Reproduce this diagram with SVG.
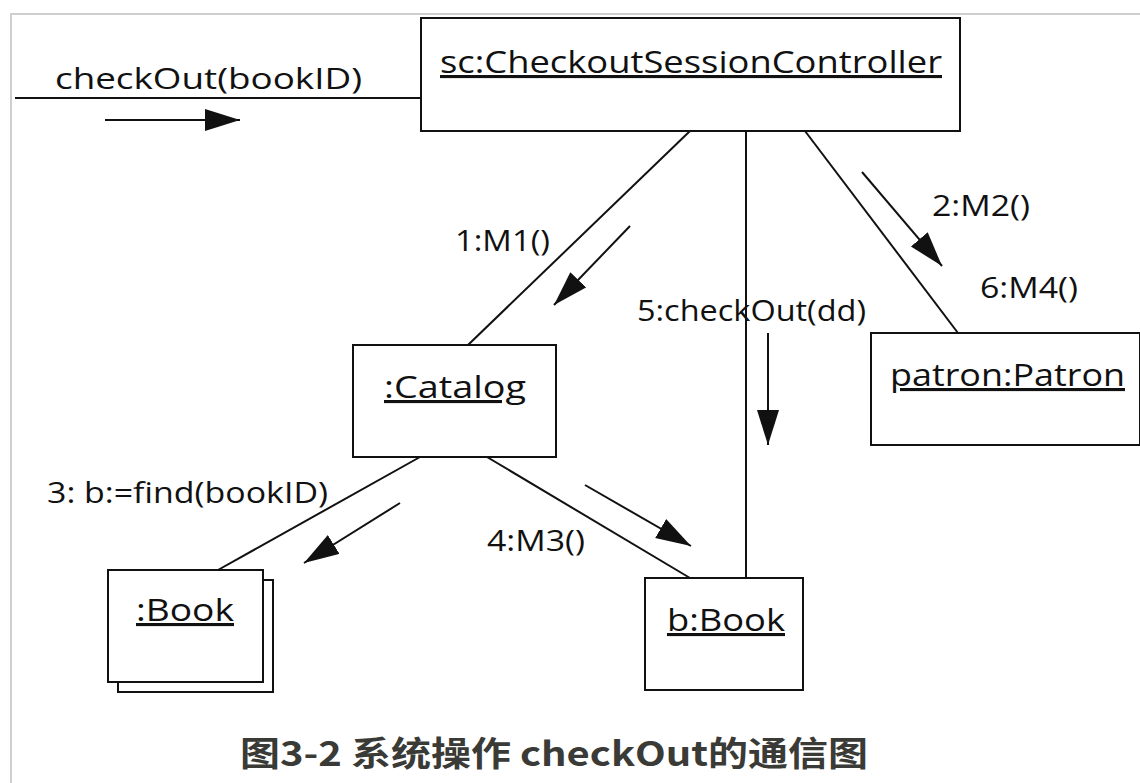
<svg xmlns="http://www.w3.org/2000/svg" width="1140" height="783" viewBox="0 0 1140 783">
<style>
.box{fill:#fff;stroke:#111;stroke-width:2}
.ln{stroke:#111;stroke-width:2;fill:none}
.msg{stroke:#111;stroke-width:2;fill:none;marker-end:url(#ah)}
.t{font-family:"Open Sans","DejaVu Sans",sans-serif;fill:#111}
.nm{font-size:31px;text-decoration:underline}
.lb{font-size:29px}
.cap{font-family:"Noto Sans CJK SC",sans-serif;font-weight:bold;font-size:34px;fill:#3a3a36}
</style>
<defs>
<marker id="ah" markerUnits="userSpaceOnUse" markerWidth="36" markerHeight="24" refX="35" refY="11" orient="auto" viewBox="0 0 36 24">
<path d="M0,0 L35,11 L0,22 z" fill="#111"/>
</marker>
</defs>
<rect width="1140" height="783" fill="#fff"/>
<path d="M11,783 V14 H1140" stroke="#cfcfcf" stroke-width="2" fill="none"/>
<g id="connectors">
<line class="ln" x1="15" y1="98" x2="445" y2="98"/>
<line class="ln" x1="690" y1="131" x2="468" y2="345"/>
<line class="ln" x1="746" y1="131" x2="746" y2="578"/>
<line class="ln" x1="805" y1="131" x2="958" y2="333"/>
<line class="ln" x1="420" y1="457" x2="218" y2="570"/>
<line class="ln" x1="487" y1="457" x2="690" y2="578"/>
<line class="msg" x1="105" y1="120" x2="240" y2="120"/>
<line class="msg" x1="630" y1="226" x2="554" y2="305"/>
<line class="msg" x1="768" y1="333" x2="768" y2="445"/>
<line class="msg" x1="862" y1="172" x2="942" y2="266"/>
<line class="msg" x1="400" y1="503" x2="304" y2="563"/>
<line class="msg" x1="585" y1="485" x2="691" y2="546"/>
<text class="t lb" x="55" y="89" font-size="30" textLength="307" lengthAdjust="spacingAndGlyphs">checkOut(bookID)</text>
<text class="t lb" x="455" y="251" textLength="95" lengthAdjust="spacingAndGlyphs">1:M1()</text>
<text class="t lb" x="637" y="321" textLength="229" lengthAdjust="spacingAndGlyphs">5:checkOut(dd)</text>
<text class="t lb" x="932" y="216" textLength="98" lengthAdjust="spacingAndGlyphs">2:M2()</text>
<text class="t lb" x="980" y="298" textLength="98" lengthAdjust="spacingAndGlyphs">6:M4()</text>
<text class="t lb" x="47" y="503" textLength="281" lengthAdjust="spacingAndGlyphs">3: b:=find(bookID)</text>
<text class="t lb" x="487" y="551" textLength="98" lengthAdjust="spacingAndGlyphs">4:M3()</text>
</g>
<g id="controller">
<rect class="box" x="421" y="18" width="539" height="113"/>
<text class="t nm" x="440" y="73" textLength="502" lengthAdjust="spacingAndGlyphs">sc:CheckoutSessionController</text>
</g>
<g id="catalog">
<rect class="box" x="353" y="345" width="203" height="112"/>
<text class="t nm" x="384" y="398" textLength="142" lengthAdjust="spacingAndGlyphs">:Catalog</text>
</g>
<g id="patron">
<rect class="box" x="871" y="333" width="269" height="112"/>
<text class="t nm" x="890" y="386" textLength="235" lengthAdjust="spacingAndGlyphs">patron:Patron</text>
</g>
<g id="books">
<rect class="box" x="118" y="580" width="155" height="112"/>
<rect class="box" x="108" y="570" width="155" height="112"/>
<text class="t nm" x="136" y="621" textLength="98" lengthAdjust="spacingAndGlyphs">:Book</text>
</g>
<g id="bbook">
<rect class="box" x="645" y="578" width="158" height="112"/>
<text class="t nm" x="667" y="631" textLength="118" lengthAdjust="spacingAndGlyphs">b:Book</text>
</g>
<text class="cap" x="240" y="766" textLength="628" lengthAdjust="spacingAndGlyphs">图3-2 系统操作 checkOut的通信图</text>
</svg>
